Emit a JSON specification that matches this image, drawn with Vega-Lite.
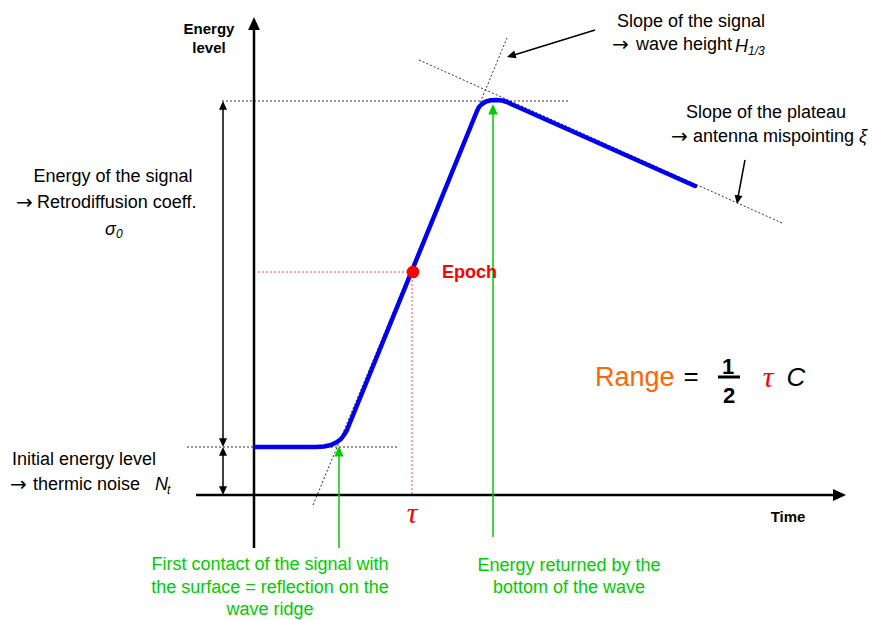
{
  "$schema": "https://vega.github.io/schema/vega-lite/v6.json",
  "description": "Altimetry waveform: energy level vs time, with the leading edge, epoch and plateau",
  "autosize": {"type": "fit", "contains": "padding"},
  "width": 874,
  "height": 620,
  "padding": 0,
  "background": "white",
  "config": {
    "view": {"stroke": null},
    "text": {"font": "Liberation Sans", "baseline": "middle"}
  },

  "datasets": {
    "curve": [
      {"x": 255, "y": 173}, {"x": 316, "y": 173}, {"x": 324, "y": 173.5},
      {"x": 331, "y": 175}, {"x": 337, "y": 178}, {"x": 341, "y": 181},
      {"x": 344, "y": 185}, {"x": 347, "y": 190}, {"x": 477, "y": 509},
      {"x": 479, "y": 513}, {"x": 482, "y": 516}, {"x": 486, "y": 518.5},
      {"x": 491, "y": 519.7}, {"x": 497, "y": 520}, {"x": 502, "y": 519.5},
      {"x": 507, "y": 518}, {"x": 511, "y": 516}, {"x": 695, "y": 434}
    ],
    "segs": [
      {"kind": "axis", "x": 254, "y": 72, "x2": 254, "y2": 596},
      {"kind": "axis", "x": 196, "y": 125, "x2": 836, "y2": 125},
      {"kind": "dim", "x": 223, "y": 512, "x2": 223, "y2": 180},
      {"kind": "dim", "x": 223, "y": 166, "x2": 223, "y2": 132},
      {"kind": "dim", "x": 595, "y": 590, "x2": 514, "y2": 565},
      {"kind": "dim", "x": 745, "y": 460, "x2": 738, "y2": 423},
      {"kind": "dot", "x": 222, "y": 519, "x2": 570, "y2": 519},
      {"kind": "dot", "x": 187, "y": 173, "x2": 397, "y2": 173},
      {"kind": "dot", "x": 313, "y": 115, "x2": 507, "y2": 582},
      {"kind": "dot", "x": 419, "y": 560, "x2": 782, "y2": 397},
      {"kind": "red", "x": 258, "y": 348, "x2": 412, "y2": 348},
      {"kind": "red", "x": 412, "y": 348, "x2": 412, "y2": 126},
      {"kind": "green", "x": 339, "y": 72, "x2": 339, "y2": 165},
      {"kind": "green", "x": 493, "y": 83, "x2": 493, "y2": 508},
      {"kind": "bar", "x": 718, "y": 243, "x2": 740, "y2": 243}
    ],
    "heads": [
      {"kind": "axis", "x": 254, "y": 603, "angle": 0},
      {"kind": "axis", "x": 846, "y": 125, "angle": 90},
      {"kind": "dim", "x": 223, "y": 519, "angle": 0},
      {"kind": "dim", "x": 223, "y": 173, "angle": 180},
      {"kind": "dim", "x": 223, "y": 173, "angle": 0},
      {"kind": "dim", "x": 223, "y": 125, "angle": 180},
      {"kind": "dim", "x": 507, "y": 563, "angle": 253},
      {"kind": "dim", "x": 737, "y": 416, "angle": 190},
      {"kind": "green", "x": 339, "y": 174, "angle": 0},
      {"kind": "green", "x": 493, "y": 516, "angle": 0}
    ],
    "labels": [
      {"role": "note", "x": 617, "y": 598, "text": "Slope of the signal"},
      {"role": "note", "x": 636, "y": 575, "text": "wave height"},
      {"role": "note", "x": 686, "y": 507, "text": "Slope of the plateau"},
      {"role": "note", "x": 693, "y": 483, "text": "antenna mispointing"},
      {"role": "note", "x": 12, "y": 160, "text": "Initial energy level"},
      {"role": "note", "x": 33, "y": 135, "text": "thermic noise"},
      {"role": "noteC", "x": 113, "y": 443, "text": "Energy of the signal"},
      {"role": "note", "x": 37, "y": 417, "text": "Retrodiffusion coeff."},
      {"role": "arrow", "x": 612, "y": 575, "text": "→"},
      {"role": "arrow", "x": 671, "y": 483, "text": "→"},
      {"role": "arrow", "x": 16, "y": 417, "text": "→"},
      {"role": "arrow", "x": 10, "y": 135, "text": "→"},
      {"role": "ital", "x": 735, "y": 573, "text": "H"},
      {"role": "ital", "x": 859, "y": 483, "text": "ξ"},
      {"role": "ital", "x": 105, "y": 390, "text": "σ"},
      {"role": "ital", "x": 155, "y": 135, "text": "N"},
      {"role": "sub", "x": 748, "y": 569, "text": "1/3"},
      {"role": "sub", "x": 116, "y": 386, "text": "0"},
      {"role": "sub", "x": 167, "y": 130, "text": "t"},
      {"role": "bold", "x": 209, "y": 591, "text": "Energy"},
      {"role": "bold", "x": 209, "y": 572, "text": "level"},
      {"role": "bold", "x": 788, "y": 103, "text": "Time"},
      {"role": "green", "x": 270, "y": 55, "text": "First contact of the signal with"},
      {"role": "green", "x": 270, "y": 32, "text": "the surface = reflection on the"},
      {"role": "green", "x": 270, "y": 10, "text": "wave ridge"},
      {"role": "green", "x": 569, "y": 54, "text": "Energy returned by the"},
      {"role": "green", "x": 569, "y": 32, "text": "bottom of the wave"},
      {"role": "epoch", "x": 442, "y": 347, "text": "Epoch"},
      {"role": "tau", "x": 412, "y": 106, "text": "τ"},
      {"role": "tau", "x": 768, "y": 242, "text": "τ"},
      {"role": "range", "x": 595, "y": 242, "text": "Range"},
      {"role": "eq", "x": 691, "y": 243, "text": "="},
      {"role": "frac", "x": 728, "y": 253, "text": "1"},
      {"role": "frac", "x": 729, "y": 224, "text": "2"},
      {"role": "c", "x": 796, "y": 242, "text": "C"}
    ]
  },

  "encoding": {
    "x": {"field": "x", "type": "quantitative", "scale": {"domain": [0, 874], "nice": false, "zero": false}, "axis": null},
    "y": {"field": "y", "type": "quantitative", "scale": {"domain": [0, 620], "nice": false, "zero": false}, "axis": null}
  },

  "layer": [
    {
      "data": {"name": "segs"},
      "transform": [{"filter": "datum.kind == 'dot'"}],
      "mark": {"type": "rule", "color": "#333333", "strokeWidth": 1, "strokeDash": [2, 2]},
      "encoding": {"x2": {"field": "x2"}, "y2": {"field": "y2"}}
    },
    {
      "data": {"name": "segs"},
      "transform": [{"filter": "datum.kind == 'red'"}],
      "mark": {"type": "rule", "color": "#ff5050", "strokeWidth": 1, "strokeDash": [2, 2]},
      "encoding": {"x2": {"field": "x2"}, "y2": {"field": "y2"}}
    },
    {
      "data": {"name": "segs"},
      "transform": [{"filter": "datum.kind == 'axis'"}],
      "mark": {"type": "rule", "color": "black", "strokeWidth": 2.5},
      "encoding": {"x2": {"field": "x2"}, "y2": {"field": "y2"}}
    },
    {
      "data": {"name": "segs"},
      "transform": [{"filter": "datum.kind == 'dim'"}],
      "mark": {"type": "rule", "color": "black", "strokeWidth": 1.5},
      "encoding": {"x2": {"field": "x2"}, "y2": {"field": "y2"}}
    },
    {
      "data": {"name": "segs"},
      "transform": [{"filter": "datum.kind == 'bar'"}],
      "mark": {"type": "rule", "color": "black", "strokeWidth": 3},
      "encoding": {"x2": {"field": "x2"}, "y2": {"field": "y2"}}
    },
    {
      "data": {"name": "segs"},
      "transform": [{"filter": "datum.kind == 'green'"}],
      "mark": {"type": "rule", "color": "#00cc00", "strokeWidth": 1.5},
      "encoding": {"x2": {"field": "x2"}, "y2": {"field": "y2"}}
    },
    {
      "data": {"name": "heads"},
      "transform": [{"filter": "datum.kind == 'axis'"}],
      "mark": {"type": "point", "shape": "M0,0L-0.5,1.1L0.5,1.1Z", "filled": true, "opacity": 1, "color": "black", "size": 560},
      "encoding": {"angle": {"field": "angle", "type": "quantitative", "scale": null}}
    },
    {
      "data": {"name": "heads"},
      "transform": [{"filter": "datum.kind == 'dim'"}],
      "mark": {"type": "point", "shape": "M0,0L-0.5,1.1L0.5,1.1Z", "filled": true, "opacity": 1, "color": "black", "size": 256},
      "encoding": {"angle": {"field": "angle", "type": "quantitative", "scale": null}}
    },
    {
      "data": {"name": "heads"},
      "transform": [{"filter": "datum.kind == 'green'"}],
      "mark": {"type": "point", "shape": "M0,0L-0.5,1.1L0.5,1.1Z", "filled": true, "opacity": 1, "color": "#00cc00", "size": 360},
      "encoding": {"angle": {"field": "angle", "type": "quantitative", "scale": null}}
    },
    {
      "data": {"name": "curve"},
      "mark": {"type": "line", "color": "#0000ee", "strokeWidth": 4.5, "interpolate": "linear", "strokeCap": "round", "strokeJoin": "round"},
      "encoding": {}
    },
    {
      "data": {"values": [{"x": 413, "y": 348}]},
      "mark": {"type": "circle", "color": "#ff0000", "opacity": 1, "size": 160}
    },
    {
      "data": {"name": "labels"},
      "transform": [{"filter": "datum.role == 'note'"}],
      "mark": {"type": "text", "align": "left", "fontSize": 18, "color": "black"},
      "encoding": {"text": {"field": "text"}}
    },
    {
      "data": {"name": "labels"},
      "transform": [{"filter": "datum.role == 'noteC'"}],
      "mark": {"type": "text", "align": "center", "fontSize": 18, "color": "black"},
      "encoding": {"text": {"field": "text"}}
    },
    {
      "data": {"name": "labels"},
      "transform": [{"filter": "datum.role == 'arrow'"}],
      "mark": {"type": "text", "align": "left", "font": "DejaVu Sans", "fontSize": 20, "color": "black"},
      "encoding": {"text": {"field": "text"}}
    },
    {
      "data": {"name": "labels"},
      "transform": [{"filter": "datum.role == 'ital'"}],
      "mark": {"type": "text", "align": "left", "fontSize": 18, "fontStyle": "italic", "color": "black"},
      "encoding": {"text": {"field": "text"}}
    },
    {
      "data": {"name": "labels"},
      "transform": [{"filter": "datum.role == 'sub'"}],
      "mark": {"type": "text", "align": "left", "fontSize": 12, "fontStyle": "italic", "color": "black"},
      "encoding": {"text": {"field": "text"}}
    },
    {
      "data": {"name": "labels"},
      "transform": [{"filter": "datum.role == 'bold'"}],
      "mark": {"type": "text", "align": "center", "fontSize": 15, "fontWeight": "bold", "color": "black"},
      "encoding": {"text": {"field": "text"}}
    },
    {
      "data": {"name": "labels"},
      "transform": [{"filter": "datum.role == 'green'"}],
      "mark": {"type": "text", "align": "center", "fontSize": 18, "color": "#00cc00"},
      "encoding": {"text": {"field": "text"}}
    },
    {
      "data": {"name": "labels"},
      "transform": [{"filter": "datum.role == 'epoch'"}],
      "mark": {"type": "text", "align": "left", "fontSize": 18, "fontWeight": "bold", "color": "#ff0000"},
      "encoding": {"text": {"field": "text"}}
    },
    {
      "data": {"name": "labels"},
      "transform": [{"filter": "datum.role == 'tau'"}],
      "mark": {"type": "text", "align": "center", "font": "Liberation Serif", "fontSize": 30, "fontStyle": "italic", "color": "#ff0000"},
      "encoding": {"text": {"field": "text"}}
    },
    {
      "data": {"name": "labels"},
      "transform": [{"filter": "datum.role == 'range'"}],
      "mark": {"type": "text", "align": "left", "fontSize": 27, "color": "#ff6600"},
      "encoding": {"text": {"field": "text"}}
    },
    {
      "data": {"name": "labels"},
      "transform": [{"filter": "datum.role == 'eq'"}],
      "mark": {"type": "text", "align": "center", "fontSize": 26, "color": "black"},
      "encoding": {"text": {"field": "text"}}
    },
    {
      "data": {"name": "labels"},
      "transform": [{"filter": "datum.role == 'frac'"}],
      "mark": {"type": "text", "align": "center", "fontSize": 22, "fontWeight": "bold", "color": "black"},
      "encoding": {"text": {"field": "text"}}
    },
    {
      "data": {"name": "labels"},
      "transform": [{"filter": "datum.role == 'c'"}],
      "mark": {"type": "text", "align": "center", "fontSize": 26, "fontStyle": "italic", "color": "black"},
      "encoding": {"text": {"field": "text"}}
    }
  ]
}
